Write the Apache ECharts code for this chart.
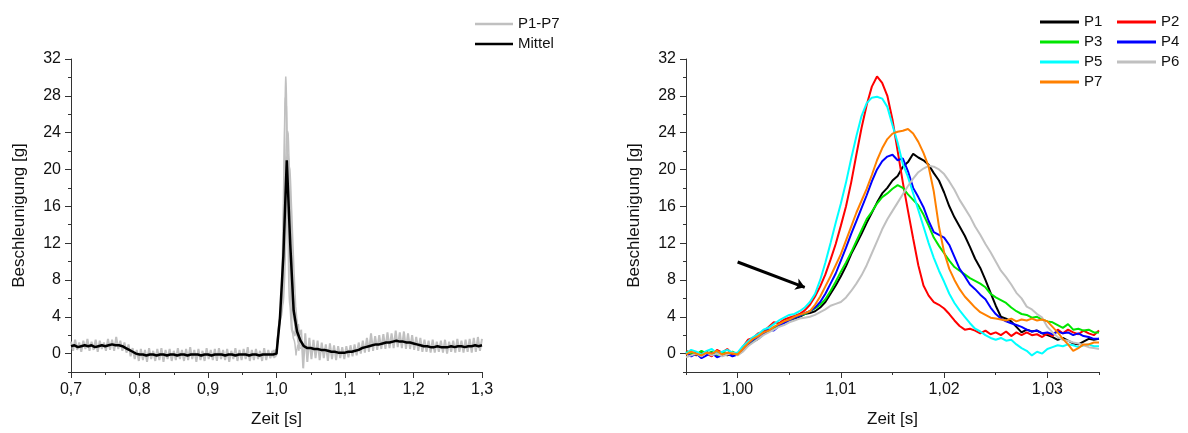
<!DOCTYPE html>
<html><head><meta charset="utf-8">
<script src="https://cdn.jsdelivr.net/npm/echarts@6/dist/echarts.min.js"></script>
<style>html,body{margin:0;padding:0;background:#fff}#c{width:1188px;height:433px}</style>
</head><body><div id="c"></div>
<script>
// ---------- data ----------
const seriesNames = ['P1','P2','P3','P4','P5','P6','P7'];
const seriesColors = ['#000000','#ff0000','#00e600','#0000ff','#00ffff','#c0c0c0','#ff8000'];

// individual runs, sampled from 0.995 s every 0.0005 s
const peakStart = 0.995, peakStep = 0.0005;
const p1 = [0.0,-0.2,0.1,-0.1,0.2,-0.2,0.0,0.1,-0.2,0.0,-0.1,
  0.3,0.9,1.3,1.6,2.1,2.5,2.8,3.0,3.4,3.6,3.8,4.0,4.3,4.4,
  4.6,5.0,5.6,6.5,7.4,8.4,9.5,10.8,11.9,13.0,
  14.2,15.3,16.4,17.4,18.0,18.8,19.3,20.3,20.8,21.7,
  21.3,21.0,20.5,19.6,18.8,17.5,16.0,14.8,13.8,12.8,
  11.6,10.3,9.3,8.0,6.6,5.2,4.0,3.8,3.5,2.9,
  2.3,2.6,2.4,2.5,2.2,2.0,1.8,1.5,1.7,1.4,
  1.1,1.0,1.3,1.6,1.5,1.6];
const p2 = [0.3,0.1,-0.2,0.2,0.0,-0.3,0.4,0.1,0.5,-0.1,0.0,
  0.7,1.5,1.7,2.2,2.4,2.9,3.4,3.3,3.7,3.9,4.1,4.3,4.7,5.3,
  6.2,7.3,8.6,10.2,11.9,13.9,16.0,18.6,21.6,24.5,
  27.0,29.0,30.1,29.4,28.0,25.4,22.0,18.6,15.5,12.5,
  9.6,7.4,6.3,5.6,5.3,4.9,4.3,3.6,3.0,2.6,
  2.7,2.5,2.2,2.5,2.1,2.3,2.0,2.4,1.9,2.3,
  2.0,2.3,2.0,2.1,1.8,2.2,1.9,2.6,2.2,2.6,
  2.3,2.1,2.5,2.2,2.0,2.5];
const p3 = [0.2,0.0,-0.1,0.3,0.0,0.2,-0.2,0.1,0.0,0.2,-0.1,
  0.3,0.9,1.4,1.8,2.2,2.5,2.8,3.1,3.4,3.6,3.9,4.1,4.3,4.6,
  4.9,5.3,5.9,6.8,7.8,8.9,9.9,11.0,12.2,13.4,
  14.6,15.4,16.3,17.0,17.4,17.9,18.3,18.0,17.3,16.7,
  16.1,15.1,13.9,12.6,11.7,10.9,10.1,9.4,9.0,8.6,
  8.2,7.9,7.6,7.2,6.5,6.1,5.8,5.5,5.0,4.6,
  4.3,4.2,3.9,4.0,3.7,3.5,3.4,3.1,2.8,3.2,
  2.6,2.7,2.5,2.6,2.3,2.3];
const p4 = [0.1,-0.3,0.0,-0.5,-0.2,0.1,-0.4,-0.2,0.0,-0.3,-0.1,
  0.4,1.0,1.5,1.8,2.2,2.6,2.5,3.0,3.3,3.6,3.9,4.1,4.4,4.6,
  5.0,5.6,6.5,7.6,8.7,10.1,11.5,13.0,14.4,15.8,
  17.2,18.7,20.0,20.9,21.4,21.6,21.0,21.2,19.8,18.0,
  17.0,15.9,14.4,13.2,12.9,12.6,11.8,10.5,9.2,8.4,
  7.5,7.0,6.4,5.9,5.0,4.3,3.8,3.5,3.3,3.1,
  2.9,2.6,2.4,2.5,2.2,2.3,2.1,2.4,2.2,2.3,
  2.0,2.2,1.9,1.8,1.6,1.6];
const p5 = [0.0,0.4,0.2,-0.1,0.3,0.5,0.0,0.2,0.4,0.1,0.1,
  0.8,1.3,1.8,2.1,2.6,2.8,3.2,3.6,3.9,4.2,4.3,4.6,5.0,5.6,
  6.5,8.0,9.9,12.0,14.2,16.3,18.6,21.2,23.6,25.8,
  27.2,27.8,27.9,27.7,26.8,24.8,22.9,20.6,19.2,17.4,
  15.6,13.8,12.0,10.4,9.0,7.8,6.5,5.5,4.7,4.0,
  3.3,2.7,2.4,2.0,1.7,1.5,1.7,1.4,1.5,1.0,
  0.6,0.3,-0.2,0.2,0.0,0.5,0.7,0.9,0.8,1.0,
  0.9,0.7,0.9,1.0,0.8,0.8];
const p6 = [-0.4,-0.2,0.0,-0.3,0.1,-0.2,0.0,-0.3,-0.1,0.1,-0.2,
  0.2,0.8,1.2,1.6,2.0,2.3,2.6,2.9,3.1,3.4,3.6,3.8,3.9,4.0,
  4.2,4.5,4.8,5.2,5.4,5.6,6.1,6.8,7.6,8.5,
  9.6,10.9,12.2,13.5,14.6,15.5,16.4,17.3,18.2,19.0,
  19.7,20.1,20.4,20.3,20.0,19.5,18.7,17.8,16.7,15.8,
  14.9,13.8,12.9,11.9,11.0,10.0,9.0,8.3,7.5,6.6,
  6.0,5.1,4.8,4.3,3.9,2.9,2.3,1.8,1.5,1.4,
  1.2,1.1,0.9,0.7,0.6,0.5];
const p7 = [-0.1,0.2,0.0,-0.2,0.1,0.0,0.3,-0.1,0.1,0.0,-0.1,
  0.5,1.1,1.6,1.9,2.3,2.5,2.9,3.2,3.5,3.7,4.0,4.2,4.4,4.6,
  5.3,6.2,7.3,8.4,9.6,10.8,12.3,13.8,15.3,16.6,
  17.9,19.4,21.0,22.3,23.3,23.9,24.1,24.2,24.4,23.9,
  23.0,21.8,20.3,17.6,13.8,11.0,9.2,8.0,7.0,6.2,
  5.6,5.0,4.5,4.2,3.9,3.8,3.7,3.6,3.8,3.5,
  3.7,3.6,3.8,3.6,3.7,3.5,2.9,2.3,1.6,1.0,
  0.3,0.6,1.0,1.0,1.2,1.2];
const runs = [p1,p2,p3,p4,p5,p6,p7];

// mean curve ("Mittel"), from 0.70 s every 0.005 s
const meanStart = 0.70, meanStep = 0.005;
const mittel = [0.8,0.9,0.7,0.8,0.9,0.8,0.9,0.7,0.8,0.9,
  0.8,0.9,1.0,0.9,0.9,0.8,0.6,0.4,0.2,0.0,
  -0.1,-0.1,-0.2,-0.1,-0.1,-0.2,-0.1,-0.1,-0.2,-0.1,
  -0.1,-0.2,-0.1,-0.1,-0.2,-0.1,-0.1,-0.1,-0.2,-0.1,
  -0.1,-0.2,-0.1,-0.1,-0.1,-0.2,-0.1,-0.1,-0.2,-0.1,
  -0.1,-0.1,-0.2,-0.1,-0.1,-0.2,-0.1,-0.1,-0.1,-0.1,
  0.0,3.8,10.6,21.0,12.0,4.7,2.4,1.4,0.8,0.6,
  0.6,0.5,0.5,0.4,0.4,0.3,0.2,0.2,0.1,0.1,
  0.1,0.2,0.2,0.3,0.4,0.6,0.7,0.8,0.9,1.0,
  1.0,1.1,1.2,1.2,1.3,1.4,1.3,1.3,1.2,1.2,
  1.1,1.0,0.9,0.8,0.8,0.7,0.7,0.8,0.7,0.7,
  0.7,0.8,0.7,0.8,0.8,0.7,0.8,0.8,0.9,0.8,
  0.9];

// scatter band of all runs outside the peak window, every 0.003 s
const noiseStep = 0.003;
const noiseAStart = 0.700;
const noiseA = [1.3,0.3,1.5,0.4,1.2,0.2,1.4,0.5,1.6,0.3,1.3,0.4,1.5,0.2,1.4,0.5,1.2,0.3,1.6,0.4,1.5,0.3,1.8,0.5,1.4,0.3,
  1.2,0.1,1.0,-0.3,0.6,-0.6,0.4,-0.8,
  0.5,-0.7,0.4,-0.9,0.6,-0.6,0.3,-0.8,0.5,-0.7,
  0.6,-0.9,0.4,-0.6,0.5,-0.8,0.3,-0.7,0.6,-0.6,
  0.4,-0.8,0.5,-0.7,0.7,-0.6,0.4,-0.9,0.5,-0.7,
  0.3,-0.8,0.6,-0.6,0.4,-0.7,0.5,-0.8,0.6,-0.6,
  0.4,-0.7,0.5,-0.9,0.3,-0.6,0.6,-0.8,0.4,-0.7,
  0.5,-0.6,0.7,-0.8,0.4,-0.7,0.5,-0.6,0.3,-0.8,
  0.6,-0.7,0.4,-0.5,0.3];
const noiseBStart = 1.036;
const noiseB = [2.6,-1.6,2.2,-0.9,1.7,-0.6,1.5,-0.5,1.4,-0.7,
  1.2,-0.5,1.0,-0.8,1.1,-0.6,0.9,-0.7,0.8,-0.5,
  0.7,-0.6,0.8,-0.4,0.9,-0.3,1.0,-0.2,1.2,0.0,
  1.4,0.1,1.7,0.2,2.2,0.3,1.9,0.4,2.0,0.5,
  2.1,0.5,2.3,0.6,2.2,0.6,2.5,0.7,2.3,0.6,
  2.4,0.5,2.2,0.5,2.0,0.4,1.8,0.3,1.7,0.2,
  1.5,0.2,1.4,0.1,1.5,0.1,1.3,0.2,1.4,0.1,
  1.5,0.0,1.3,0.2,1.4,0.1,1.6,0.2,1.4,0.1,
  1.5,0.2,1.6,0.1,1.7,0.2,1.8,0.3,1.6];

// ticks
const yMajorTicks = [0,4,8,12,16,20,24,28,32];
const yMinorTicks = [-2,2,6,10,14,18,22,26,30];
const xLeftMajor = [0.7,0.8,0.9,1.0,1.1,1.2,1.3];
const xLeftMinor = [0.75,0.85,0.95,1.05,1.15,1.25];
const xRightMajor = [1.00,1.01,1.02,1.03];
const xRightMinor = [0.995,1.005,1.015,1.025,1.035];

// annotation arrow (data coordinates of right panel)
const arrowFrom = [1.0000, 9.95];
const arrowTo = [1.0065, 7.2];

// ---------- chart ----------
const FONT = '"Liberation Sans", Arial, sans-serif';
const AX = '#333';
const TXT = '#111';
function zip(start, step, vals){ return vals.map((v,i)=>[+(start+step*i).toFixed(5), v]); }

function mainX(grid, min, max, major, dec){
  return {type:'value', gridIndex:grid, min:min, max:max, position:'bottom',
    name:'Zeit [s]', nameLocation:'middle', nameGap:39,
    nameTextStyle:{fontFamily:FONT, fontSize:17, color:TXT},
    axisLine:{show:true, onZero:false, lineStyle:{color:AX, width:1}},
    axisTick:{show:true, length:6, customValues:major, lineStyle:{color:AX}},
    axisLabel:{customValues:major, formatter:v=>v.toFixed(dec).replace('.',','), fontFamily:FONT, fontSize:16, color:TXT, margin:10},
    splitLine:{show:false}};
}
function minorX(grid, min, max, minor){
  return {type:'value', gridIndex:grid, min:min, max:max, position:'bottom',
    axisLine:{show:false, onZero:false},
    axisTick:{show:true, length:3, customValues:minor, lineStyle:{color:AX}},
    axisLabel:{show:false}, splitLine:{show:false}};
}
function mainY(grid){
  return {type:'value', gridIndex:grid, min:-2, max:32, position:'left',
    name:'Beschleunigung [g]', nameLocation:'middle', nameGap:43,
    nameTextStyle:{fontFamily:FONT, fontSize:17, color:TXT},
    axisLine:{show:true, onZero:false, lineStyle:{color:AX, width:1}},
    axisTick:{show:true, length:6, customValues:yMajorTicks, lineStyle:{color:AX}},
    axisLabel:{customValues:yMajorTicks, fontFamily:FONT, fontSize:16, color:TXT, margin:10},
    splitLine:{show:false}};
}
function minorY(grid){
  return {type:'value', gridIndex:grid, min:-2, max:32, position:'left',
    axisLine:{show:false, onZero:false},
    axisTick:{show:true, length:3, customValues:yMinorTicks, lineStyle:{color:AX}},
    axisLabel:{show:false}, splitLine:{show:false}};
}

const series = [];
const GRAY = '#c0c0c0';
series.push({name:'P1-P7', type:'line', xAxisIndex:0, yAxisIndex:0, data:zip(noiseAStart, noiseStep, noiseA), showSymbol:false, lineStyle:{color:GRAY, width:2}, itemStyle:{color:GRAY}, z:2});
series.push({name:'P1-P7', type:'line', xAxisIndex:0, yAxisIndex:0, data:zip(noiseBStart, noiseStep, noiseB), showSymbol:false, lineStyle:{color:GRAY, width:2}, itemStyle:{color:GRAY}, z:2});
runs.forEach(r=>{
  series.push({name:'P1-P7', type:'line', xAxisIndex:0, yAxisIndex:0, data:zip(peakStart, peakStep, r), showSymbol:false, lineStyle:{color:GRAY, width:1.5}, itemStyle:{color:GRAY}, z:2});
});
series.push({name:'Mittel', type:'line', xAxisIndex:0, yAxisIndex:0, data:zip(meanStart, meanStep, mittel), showSymbol:false, lineStyle:{color:'#000', width:2.5}, itemStyle:{color:'#000'}, z:3});

runs.forEach((r,k)=>{
  const s = {name:seriesNames[k], type:'line', xAxisIndex:2, yAxisIndex:2, data:zip(peakStart, peakStep, r), showSymbol:false,
    lineStyle:{color:seriesColors[k], width:2}, itemStyle:{color:seriesColors[k]}, z:3};
  if (k===0) {
    s.markLine = {silent:true, animation:false, symbol:['none','arrow'], symbolSize:9,
      label:{show:false}, lineStyle:{color:'#000', width:3, type:'solid'},
      data:[[{coord:arrowFrom},{coord:arrowTo}]]};
  }
  series.push(s);
});

const legendText = {fontFamily:FONT, fontSize:15, color:TXT, lineHeight:16};
const option = {
  animation:false,
  backgroundColor:'#fff',
  grid:[
    {left:71, right:706, top:59, bottom:60},
    {left:686, right:89, top:59, bottom:60}
  ],
  xAxis:[mainX(0,0.7,1.3,xLeftMajor,1), minorX(0,0.7,1.3,xLeftMinor),
         mainX(1,0.995,1.035,xRightMajor,2), minorX(1,0.995,1.035,xRightMinor)],
  yAxis:[mainY(0), minorY(0), mainY(1), minorY(1)],
  legend:[
    {data:['P1-P7','Mittel'], orient:'vertical', left:475, top:16, padding:0, icon:'rect', itemWidth:38, itemHeight:2.5, itemGap:4, textStyle:legendText},
    {data:['P1','P3','P5','P7'], orient:'vertical', left:1040, top:14, padding:0, icon:'rect', itemWidth:39, itemHeight:3, itemGap:4, textStyle:legendText},
    {data:['P2','P4','P6'], orient:'vertical', left:1117, top:14, padding:0, icon:'rect', itemWidth:39, itemHeight:3, itemGap:4, textStyle:legendText}
  ],
  series:series
};
const chart = echarts.init(document.getElementById('c'), null, {renderer:'canvas'});
chart.setOption(option);
</script>
</body></html>
